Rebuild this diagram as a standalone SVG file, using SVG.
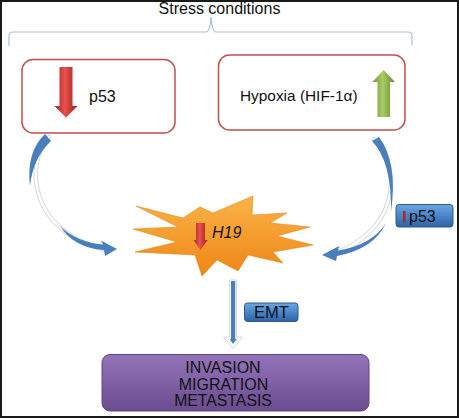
<svg xmlns="http://www.w3.org/2000/svg" width="459" height="418" viewBox="0 0 459 418">
<defs>
<linearGradient id="gRed" x1="0" y1="0" x2="1" y2="0">
<stop offset="0" stop-color="#a82222"/><stop offset="0.45" stop-color="#e8524c"/><stop offset="1" stop-color="#9e1e1e"/>
</linearGradient>
<linearGradient id="gGreen" x1="0" y1="0" x2="1" y2="0">
<stop offset="0" stop-color="#6f9030"/><stop offset="0.45" stop-color="#a9cc66"/><stop offset="1" stop-color="#678a2c"/>
</linearGradient>
<linearGradient id="gStar" x1="0" y1="0" x2="0" y2="1">
<stop offset="0" stop-color="#fbb347"/><stop offset="1" stop-color="#ee8616"/>
</linearGradient>
<linearGradient id="gBlue" x1="0" y1="0" x2="0" y2="1">
<stop offset="0" stop-color="#6fa6e0"/><stop offset="0.5" stop-color="#4a85c8"/><stop offset="1" stop-color="#2d64a6"/>
</linearGradient>
<linearGradient id="gPurple" x1="0" y1="0" x2="0" y2="1">
<stop offset="0" stop-color="#9474b8"/><stop offset="0.5" stop-color="#8060a6"/><stop offset="1" stop-color="#6a4b8e"/>
</linearGradient>
<style>
text{font-family:"Liberation Sans",Arial,sans-serif;fill:#111}
.box{fill:#fff;stroke:#c0504d;stroke-width:1.5}
.tag{fill:url(#gBlue);stroke:#2a5a90;stroke-width:1}
.blue{fill:#4a7fbd}
.back{fill:none;stroke:#d4d8dc;stroke-width:4.5;stroke-linecap:round}
.backw{fill:none;stroke:#fff;stroke-width:2.5;stroke-linecap:round}
</style>
</defs>
<rect x="0" y="0" width="459" height="418" fill="#fff"/>

<g id="title">
<text x="219.5" y="14" font-size="16" text-anchor="middle">Stress conditions</text>
<path d="M 9 46 L 9 36 Q 9 32 13 32 L 206 32 Q 210 32 211 17 Q 212 32 216 32 L 408 32 Q 412 32 412 36 L 412 45" fill="none" stroke="#a9bfd4" stroke-width="1.2"/>
</g>

<g id="node-p53">
<rect class="box" x="22" y="59.5" width="153" height="73.5" rx="11"/>
<path d="M 59.5 67 L 72.5 67 L 72.5 106 L 77.5 106 L 66 117.5 L 54.5 106 L 59.5 106 Z" fill="url(#gRed)"/>
<text x="89" y="102" font-size="16">p53</text>
</g>

<g id="node-hypoxia">
<rect class="box" x="218.5" y="55" width="186.5" height="75" rx="11"/>
<text x="240" y="101" font-size="15.4">Hypoxia (HIF-1α)</text>
<path d="M 377.5 117 L 390 117 L 390 82 L 395 82 L 383.7 70 L 372.4 82 L 377.5 82 Z" fill="url(#gGreen)"/>
</g>

<g id="node-h19">
<polygon points="136,206 183,218 200,207 213,213 253,196 252,215 287,213 270,223 310,227 277,236 313,245 273,252 283,263 248,255 238,271 217,260 202,276 195,255 135,252 177,242 133,229 178,227" fill="url(#gStar)" stroke="#e3861a" stroke-width="0.6" stroke-linejoin="round"/>
<path d="M 196 223 L 205 223 L 205 240 L 207.5 240 L 200.5 250 L 193.5 240 L 196 240 Z" fill="url(#gRed)"/>
<text x="212" y="238" font-size="16" font-style="italic">H19</text>
</g>

<g id="node-p53-tag">
<rect class="tag" x="396" y="204.5" width="57" height="22.5" rx="3"/>
<rect x="403" y="211" width="2.6" height="11.5" fill="#b02a2a"/>
<text x="409" y="222" font-size="16">p53</text>
</g>

<g id="node-emt">
<rect class="tag" x="244.5" y="303" width="53.5" height="18.5" rx="3"/>
<text x="271.3" y="318.3" font-size="16.5" text-anchor="middle">EMT</text>
</g>

<g id="node-outcome">
<rect x="102" y="354.5" width="267" height="56.5" rx="8" fill="url(#gPurple)" stroke="#634785" stroke-width="1"/>
<text x="223" y="372.5" font-size="16" text-anchor="middle">INVASION</text>
<text x="223.5" y="390" font-size="16" text-anchor="middle">MIGRATION</text>
<text x="223" y="406" font-size="15.8" text-anchor="middle">METASTASIS</text>
</g>

<g id="connectors">
<!-- left curved arrow -->
<path class="back" d="M 49 137 C 24 165 30 232 106 250"/>
<path class="backw" d="M 49 137 C 24 165 30 232 106 250"/>
<path class="blue" d="M 45 134 Q 26 152 30 186 Q 33 158 51 141 Z"/>
<path class="blue" d="M 60 226 Q 76 242 103 244.5 L 101 240.5 L 117 249 L 105 256 L 104 250 Q 74 248 60 226 Z"/>
<!-- right curved arrow -->
<path class="back" d="M 374 139 C 402 168 400 232 330 255"/>
<path class="backw" d="M 374 139 C 402 168 400 232 330 255"/>
<path class="blue" d="M 372 141 Q 392 162 391 212 Q 398 162 379 137 Z"/>
<path class="blue" d="M 386 223 Q 372 245 338 250.5 L 339 246 L 322 255 L 336 261 L 337 256 Q 374 249 386 223 Z"/>
<!-- vertical arrow to outcome -->
<path d="M 229.5 280 L 236.5 280 L 236.5 337 L 242.5 337 L 233 348.5 L 223.5 337 L 229.5 337 Z" fill="#fff" stroke="#d4d8dc" stroke-width="1"/>
<rect x="231" y="281" width="4.2" height="60" fill="#4a7fbd"/>
<path d="M 229.5 339 L 236.7 339 L 233.1 344 Z" fill="#4a7fbd"/>
</g>

<rect x="1" y="1" width="457" height="416" fill="none" stroke="#1a1a1a" stroke-width="2"/>
</svg>
